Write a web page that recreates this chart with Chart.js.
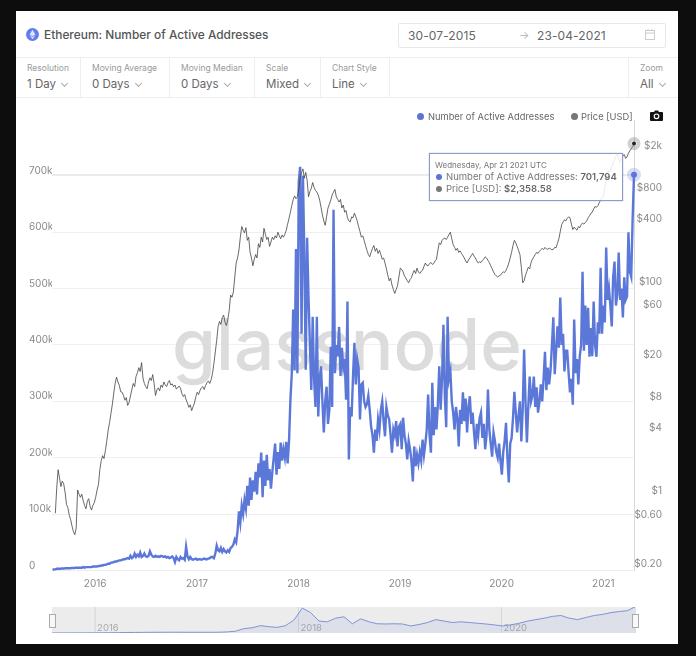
<!DOCTYPE html>
<html>
<head>
<meta charset="utf-8">
<title>Ethereum: Number of Active Addresses</title>
<script src="https://cdn.jsdelivr.net/npm/chart.js@4/dist/chart.umd.min.js"></script>
<style>
  html, body { margin: 0; padding: 0; background: #0d0d0d; font-family: Inter, sans-serif; }
  #page { position: relative; width: 696px; height: 656px; overflow: hidden; }
  #card { position: absolute; left: 16px; top: 11px; width: 662px; height: 633px; background: #fff; }
  .abs { position: absolute; white-space: nowrap; }
  .hline { position: absolute; left: 16px; width: 662px; height: 1px; background: #eceef0; }
  .vline { position: absolute; top: 58px; height: 39px; width: 1px; background: #eceef0; }
  .ctl-label { position: absolute; top: 63px; font-size: 8.5px; color: #9a9a9a; white-space: nowrap; }
  .ctl-value { position: absolute; top: 77px; font-size: 11.5px; color: #666; white-space: nowrap; }
  .ctl-value i { display: inline-block; width: 4px; height: 4px; margin: 0 0 2px 6px; border-right: 1px solid #aaa; border-bottom: 1px solid #aaa; transform: rotate(45deg); }
  .dot { position: absolute; width: 7px; height: 7px; border-radius: 50%; }
  #mainChart { position: absolute; left: 16px; top: 100px; }
  #navChart { position: absolute; left: 16px; top: 600px; }
  .handle { position: absolute; top: 614px; width: 5px; height: 12px; background: #f8f8f8; border: 1px solid #aaa; }
  #tip { position: absolute; left: 429px; top: 153px; width: 192px; height: 46px; border: 1px solid #8c9bc9; background: rgba(255,255,255,0.86); box-shadow: 0 0 1px #8c9bc9; }
  #tip div { position: absolute; left: 16px; white-space: nowrap; font-size: 9.5px; color: #777; }
  #tip b { font-weight: 600; color: #666; }
  #tip span { position: absolute; left: 6px; width: 6px; height: 6px; border-radius: 50%; }
</style>
</head>
<body>
<div id="page">
  <div id="card"></div>

  <svg class="abs" style="left:26px;top:28px" width="13" height="13" viewBox="0 0 13 13">
    <circle cx="6.5" cy="6.5" r="6.5" fill="#627eea"/>
    <path d="M6.5 1.8 L9.4 6.6 L6.5 8.3 L3.6 6.6 Z M3.6 7.3 L6.5 9 L9.4 7.3 L6.5 11.2 Z" fill="#dfe5fb"/>
  </svg>
  <div class="abs" style="left:44px;top:27px;font-size:11.9px;font-weight:500;color:#555">Ethereum: Number of Active Addresses</div>

  <div class="abs" style="left:398px;top:23px;width:266px;height:23px;border:1px solid #e6e8ea;border-radius:2px"></div>
  <div class="abs" style="left:408px;top:28px;font-size:12px;color:#666;letter-spacing:.1px">30-07-2015</div>
  <div class="abs" style="left:519px;top:28px;font-size:11px;color:#bbb">→</div>
  <div class="abs" style="left:537px;top:28px;font-size:12px;color:#666;letter-spacing:.1px">23-04-2021</div>
  <svg class="abs" style="left:645px;top:29px" width="10" height="11" viewBox="0 0 10 11">
    <rect x="0.5" y="1.5" width="9" height="9" fill="none" stroke="#ccc"/><path d="M0.5 4 H9.5 M3 0 V2 M7 0 V2" stroke="#ccc"/>
  </svg>

  <div class="hline" style="top:57px"></div>
  <div class="hline" style="top:97px"></div>
  <div class="vline" style="left:80px"></div>
  <div class="vline" style="left:169px"></div>
  <div class="vline" style="left:254px"></div>
  <div class="vline" style="left:320px"></div>
  <div class="vline" style="left:389px"></div>
  <div class="vline" style="left:628px"></div>

  <div class="ctl-label" style="left:27px">Resolution</div>
  <div class="ctl-value" style="left:27px">1 Day<i></i></div>
  <div class="ctl-label" style="left:92px">Moving Average</div>
  <div class="ctl-value" style="left:92px">0 Days<i></i></div>
  <div class="ctl-label" style="left:181px">Moving Median</div>
  <div class="ctl-value" style="left:181px">0 Days<i></i></div>
  <div class="ctl-label" style="left:266px">Scale</div>
  <div class="ctl-value" style="left:266px">Mixed<i></i></div>
  <div class="ctl-label" style="left:332px">Chart Style</div>
  <div class="ctl-value" style="left:332px">Line<i></i></div>
  <div class="ctl-label" style="left:640px">Zoom</div>
  <div class="ctl-value" style="left:640px">All<i></i></div>

  <canvas id="mainChart" width="662" height="500"></canvas>
  <canvas id="navChart" width="662" height="36"></canvas>
  <div class="handle" style="left:49px"></div>
  <div class="handle" style="left:632px"></div>

  <span class="dot" style="left:417px;top:113px;background:#5b74d6"></span>
  <div class="abs" style="left:428px;top:111px;font-size:9.3px;color:#666">Number of Active Addresses</div>
  <span class="dot" style="left:571px;top:113px;background:#777"></span>
  <div class="abs" style="left:581px;top:111px;font-size:9.3px;color:#666">Price [USD]</div>
  <svg class="abs" style="left:650px;top:110px" width="13" height="11" viewBox="0 0 13 11">
    <path d="M1 2 H4 L5 0.5 H8 L9 2 H12 Q13 2 13 3 V10 Q13 11 12 11 H1 Q0 11 0 10 V3 Q0 2 1 2 Z" fill="#111"/>
    <circle cx="6.5" cy="6.3" r="2.3" fill="none" stroke="#fff" stroke-width="1.1"/>
  </svg>

  <div id="tip">
    <div id="tipDate" style="top:6px;font-size:8px;left:5px"></div>
    <span style="top:20px;background:#5b74d6"></span>
    <div id="tipAddr" style="top:17px"></div>
    <span style="top:32px;background:#777"></span>
    <div id="tipPrice" style="top:29px"></div>
  </div>
</div>

<script>
//Days are counted from 30-07-2015, the first day of the x axis
const yearDays = [155, 521, 886, 1251, 1616, 1982];
const yearLabels = ["2016", "2017", "2018", "2019", "2020", "2021"];
const navYearDays = [155, 886, 1616];
const navYearLabels = ["2016", "2018", "2020"];
const addressTicks = [0, 100, 200, 300, 400, 500, 600, 700];
const priceTicks = [0.2, 0.6, 1, 4, 8, 20, 60, 100, 400, 800, 2000];
const priceTickLabels = ["$0.20", "$0.60", "$1", "$4", "$8", "$20", "$60", "$100", "$400", "$800", "$2k"];

//Active addresses in thousands, one reading every 5 days
const activeAddresses = [
  1, 2, 2, 3, 3, 3, 3, 4, 3, 4,
  4, 4, 4, 4, 5, 4, 5, 5, 5, 5,
  5, 5, 6, 5, 6, 6, 6, 6, 6, 7,
  7, 7, 7, 8, 8, 9, 9, 10, 10, 11,
  12, 12, 14, 14, 15, 16, 16, 17, 18, 18,
  19, 20, 20, 21, 22, 21, 26, 22, 24, 30,
  24, 28, 25, 32, 24, 26, 30, 25, 24, 26,
  34, 28, 25, 24, 26, 24, 25, 24, 26, 25,
  24, 25, 23, 24, 22, 23, 25, 22, 15, 24,
  20, 18, 24, 21, 22, 19, 42, 25, 20, 24,
  20, 19, 20, 21, 19, 20, 20, 19, 20, 21,
  20, 20, 21, 22, 24, 24, 22, 30, 44, 36,
  34, 40, 33, 38, 34, 32, 36, 33, 40, 42,
  46, 55, 50, 70, 105, 85, 115, 100, 125, 110,
  150, 115, 165, 125, 160, 140, 175, 135, 190, 165,
  209, 130, 195, 150, 205, 160, 180, 145, 175, 200,
  225, 170, 210, 180, 227, 195, 215, 200, 228, 190,
  230, 303, 350, 463, 355, 570, 350, 690, 716, 420,
  700, 560, 356, 590, 486, 400, 320, 450, 340, 290,
  450, 273, 340, 362, 300, 245, 300, 326, 260, 285,
  397, 290, 640, 350, 400, 380, 432, 345, 395, 360,
  375, 303, 477, 197, 290, 273, 345, 404, 330, 375,
  360, 268, 330, 333, 300, 290, 295, 310, 285, 255,
  240, 209, 250, 230, 268, 250, 285, 300, 265, 238,
  290, 275, 268, 240, 209, 250, 240, 265, 220, 255,
  260, 215, 271, 240, 225, 197, 230, 215, 195, 158,
  220, 185, 205, 190, 210, 195, 232, 205, 225, 250,
  312, 240, 209, 333, 240, 290, 250, 295, 362, 285,
  340, 436, 310, 254, 450, 340, 353, 300, 280, 250,
  290, 270, 220, 285, 260, 316, 265, 305, 245, 290,
  309, 260, 280, 245, 215, 260, 240, 270, 280, 235,
  260, 215, 240, 321, 250, 225, 202, 245, 230, 210,
  200, 225, 195, 170, 210, 230, 262, 200, 156, 225,
  235, 270, 317, 280, 245, 275, 300, 229, 285, 392,
  300, 227, 290, 344, 300, 310, 344, 290, 325, 280,
  298, 330, 300, 340, 388, 320, 360, 330, 355, 400,
  449, 348, 390, 433, 395, 484, 400, 420, 353, 390,
  390, 350, 316, 340, 294, 445, 350, 375, 330, 380,
  400, 530, 390, 470, 400, 466, 379, 430, 380, 477,
  400, 379, 440, 420, 537, 420, 470, 440, 573, 480,
  500, 470, 433, 520, 548, 470, 490, 564, 480, 500,
  449, 520, 480, 486, 600, 530, 521, 622, 701.794
];

//Price in USD, one reading every 5 days
const priceUsd = [
  0.69, 1.2, 1.8, 1.5, 1.24, 1.4, 1.32, 1.1, 0.84, 0.78, 0.66, 0.6, 0.52, 0.46, 0.43, 0.5, 1.15, 1.05, 0.98, 1.05,
  0.91, 0.82, 0.76, 0.9, 0.95, 0.8, 0.74, 0.82, 0.87, 0.98, 1.15, 1.3, 1.8, 2.2, 2.45, 2.3, 2.75, 3.4, 4.3, 5.1,
  6.2, 7.6, 9.7, 12, 13.8, 12.4, 11.5, 10, 9.9, 9.2, 8.3, 8.8, 7.4, 7.9, 9.1, 10.5, 12, 11.2, 14, 15.2,
  17, 15.6, 19, 13.5, 12, 11.2, 10.7, 12.4, 13.6, 12.8, 14.6, 12, 9.2, 10.4, 10.9, 10.2, 11.6, 11, 12.4, 11.6,
  11.2, 12.2, 12.8, 11.6, 11.9, 11.2, 11.6, 10.6, 11, 11.3, 10.8, 9.6, 9, 9.4, 8.4, 7.8, 7.1, 7.5, 6.6, 7.2,
  7.8, 9, 9.9, 9.4, 10.3, 10.9, 11.2, 10.5, 11.5, 12.2, 12.7, 12, 13, 15, 18.7, 24, 31, 42, 47, 44,
  51, 54, 46, 43, 49, 60, 84, 80, 90, 125, 170, 190, 226, 300, 380, 350, 330, 370, 280, 300,
  215, 190, 160, 185, 205, 190, 260, 240, 300, 270, 365, 320, 285, 300, 245, 270, 300, 285, 310, 295,
  335, 310, 290, 315, 300, 320, 350, 400, 455, 520, 605, 690, 745, 700, 730, 880, 1100, 1250, 1350, 1100,
  1250, 1050, 730, 820, 880, 1000, 900, 840, 810, 760, 680, 580, 490, 430, 390, 470, 570, 620, 680, 760,
  810, 860, 730, 690, 650, 690, 570, 610, 520, 540, 460, 430, 420, 470, 460, 510, 470, 430, 380, 340,
  300, 310, 280, 250, 225, 205, 195, 215, 235, 250, 220, 235, 210, 225, 205, 185, 190, 170, 150, 130,
  115, 122, 105, 95, 87, 95, 103, 125, 152, 148, 140, 128, 122, 115, 110, 118, 123, 135, 145, 135,
  152, 140, 135, 142, 145, 158, 170, 162, 160, 168, 172, 165, 168, 178, 185, 225, 265, 255, 280, 290,
  295, 285, 300, 320, 335, 290, 255, 240, 225, 235, 215, 222, 210, 200, 190, 178, 170, 182, 190, 200,
  210, 198, 190, 178, 170, 175, 172, 180, 185, 195, 190, 180, 172, 160, 150, 140, 132, 128, 125, 128,
  130, 136, 140, 138, 145, 155, 170, 190, 215, 250, 280, 265, 245, 225, 205, 155, 110, 115, 130, 142,
  155, 150, 172, 185, 195, 205, 215, 210, 220, 228, 235, 228, 240, 232, 230, 236, 232, 228, 230, 240,
  238, 262, 290, 340, 395, 420, 440, 430, 455, 470, 460, 400, 355, 375, 360, 350, 380, 370, 395, 410,
  400, 415, 430, 460, 480, 510, 520, 560, 590, 580, 600, 640, 680, 730, 730, 880, 1100, 1230, 1300, 1280,
  1400, 1550, 1650, 1780, 1850, 1700, 1550, 1620, 1800, 1850, 1700, 1760, 1900, 2020, 2100, 2200, 2358.58
];

//Overview strip at the bottom, in thousands, one reading every 30 days
const overviewValues = [
  2, 2, 3, 3, 4, 4, 6, 8, 10, 14,
  16, 18, 20, 20, 22, 22, 20, 20, 20, 20,
  22, 30, 50, 120, 145, 205, 175, 155, 205, 360,
  690, 565, 330, 310, 410, 450, 255, 390, 310, 255,
  250, 255, 250, 195, 235, 290, 370, 330, 290, 310,
  290, 270, 250, 225, 195, 225, 270, 330, 370, 410,
  460, 485, 410, 370, 430, 485, 515, 565, 595, 620,
  740
];

const blue = "#5b78d9";
const priceColor = "#444444";

const addressPoints = activeAddresses.map((v, i) => ({ x: 2 + i * 5, y: v }));
const pricePoints = priceUsd.map((v, i) => ({ x: 12 + i * 5, y: v }));
const overviewPoints = overviewValues.map((v, i) => ({ x: i * 30, y: v }));

//Only the hovered last point is visible
const lastOnly = (radius) => (ctx) => ctx.dataIndex === ctx.dataset.data.length - 1 ? radius : 0;

//Watermark and the hover line sit behind the data
const backdrop = {
  id: "backdrop",
  beforeDatasetsDraw(chart) {
    const { ctx, chartArea, scales } = chart;
    ctx.save();
    ctx.font = "500 71px Inter, sans-serif";
    ctx.fillStyle = "#dcdcdc";
    ctx.textAlign = "center";
    ctx.textBaseline = "alphabetic";
    ctx.fillText("glassnode", 331, 270);
    const hoverY = scales.y.getPixelForValue(activeAddresses[activeAddresses.length - 1]);
    ctx.strokeStyle = "#e2e2e2";
    ctx.lineWidth = 1;
    ctx.beginPath();
    ctx.moveTo(chartArea.left, hoverY);
    ctx.lineTo(chartArea.right, hoverY);
    ctx.stroke();
    ctx.restore();
  },
};

new Chart(document.getElementById("mainChart"), {
  type: "line",
  plugins: [backdrop],
  data: {
    datasets: [
      {
        label: "Price [USD]",
        data: pricePoints,
        yAxisID: "yPrice",
        order: 0,
        borderColor: priceColor,
        borderWidth: 0.8,
        pointRadius: lastOnly(2),
        pointBackgroundColor: "#222",
        pointBorderColor: "rgba(120,120,120,0.35)",
        pointBorderWidth: 9,
        clip: false,
      },
      {
        label: "Number of Active Addresses",
        data: addressPoints,
        yAxisID: "y",
        order: 1,
        borderColor: blue,
        borderWidth: 2.4,
        pointRadius: lastOnly(3),
        pointBackgroundColor: blue,
        pointBorderColor: "rgba(91,120,217,0.25)",
        pointBorderWidth: 8,
        clip: false,
      },
    ],
  },
  options: {
    responsive: false,
    animation: false,
    layout: { padding: { top: 20, left: 13, right: 16 } },
    plugins: { legend: { display: false }, tooltip: { enabled: false } },
    scales: {
      x: {
        type: "linear",
        min: 0,
        max: 2092,
        afterBuildTicks: (s) => { s.ticks = yearDays.map((d) => ({ value: d })); },
        afterFit: (s) => { s.height = 29.5; },
        grid: { display: false, drawTicks: false },
        border: { color: "#ececec" },
        ticks: {
          callback: (v) => yearLabels[yearDays.indexOf(v)],
          autoSkip: false,
          maxRotation: 0,
          padding: 7,
          color: "#8a8a8a",
          font: { family: "Inter", size: 10 },
        },
      },
      y: {
        position: "left",
        min: 0,
        max: 799,
        afterBuildTicks: (s) => { s.ticks = addressTicks.map((v) => ({ value: v })); },
        afterFit: (s) => { s.width = 23; },
        grid: { color: "#f0f0f0", drawTicks: false },
        border: { display: false },
        ticks: {
          callback: (v) => (v === 0 ? "0" : v + "k"),
          crossAlign: "far",
          labelOffset: -5,
          padding: 0,
          color: "#8a8a8a",
          font: { family: "Inter", size: 10 },
        },
      },
      yPrice: {
        type: "logarithmic",
        position: "right",
        min: 0.1956,
        max: 3960,
        afterBuildTicks: (s) => { s.ticks = priceTicks.map((v) => ({ value: v })); },
        afterFit: (s) => { s.width = 28; },
        grid: { drawOnChartArea: false, drawTicks: false },
        border: { color: "#d8d8d8" },
        ticks: {
          callback: (v) => priceTickLabels[priceTicks.indexOf(v)],
          crossAlign: "far",
          labelOffset: -5,
          padding: 0,
          color: "#8a8a8a",
          font: { family: "Inter", size: 10 },
        },
      },
    },
  },
});

//Grey band and year labels of the overview strip
const navBand = {
  id: "navBand",
  beforeDatasetsDraw(chart) {
    const { ctx, chartArea, scales } = chart;
    ctx.save();
    ctx.fillStyle = "#ececec";
    ctx.fillRect(chartArea.left, chartArea.top, chartArea.right - chartArea.left, chartArea.bottom - chartArea.top);
    ctx.strokeStyle = "#d6d6d6";
    ctx.fillStyle = "#a8a8a8";
    ctx.font = "9.5px Inter, sans-serif";
    navYearDays.forEach((d, i) => {
      const px = scales.x.getPixelForValue(d);
      ctx.beginPath();
      ctx.moveTo(px, chartArea.top);
      ctx.lineTo(px, chartArea.bottom);
      ctx.stroke();
      ctx.fillText(navYearLabels[i], px + 2, chartArea.bottom - 2);
    });
    ctx.restore();
  },
};

new Chart(document.getElementById("navChart"), {
  type: "line",
  plugins: [navBand],
  data: {
    datasets: [
      {
        data: overviewPoints,
        borderColor: "#7f93d8",
        borderWidth: 1,
        backgroundColor: "rgba(120,140,215,0.12)",
        fill: true,
        pointRadius: 0,
      },
    ],
  },
  options: {
    responsive: false,
    animation: false,
    layout: { padding: { left: 36, right: 42, top: 7, bottom: 3 } },
    plugins: { legend: { display: false }, tooltip: { enabled: false } },
    scales: {
      x: { type: "linear", min: 0, max: 2100, display: false },
      y: { min: 0, max: 720, display: false },
    },
  },
});

//Hover box text comes from the last readings
const lastAddresses = activeAddresses[activeAddresses.length - 1] * 1000;
const lastPrice = priceUsd[priceUsd.length - 1];
document.getElementById("tipDate").textContent = "Wednesday, Apr 21 2021 UTC";
document.getElementById("tipAddr").innerHTML = `Number of Active Addresses: <b>${lastAddresses.toLocaleString("en-US")}</b>`;
document.getElementById("tipPrice").innerHTML = `Price [USD]: <b>$${lastPrice.toLocaleString("en-US")}</b>`;
</script>
</body>
</html>
